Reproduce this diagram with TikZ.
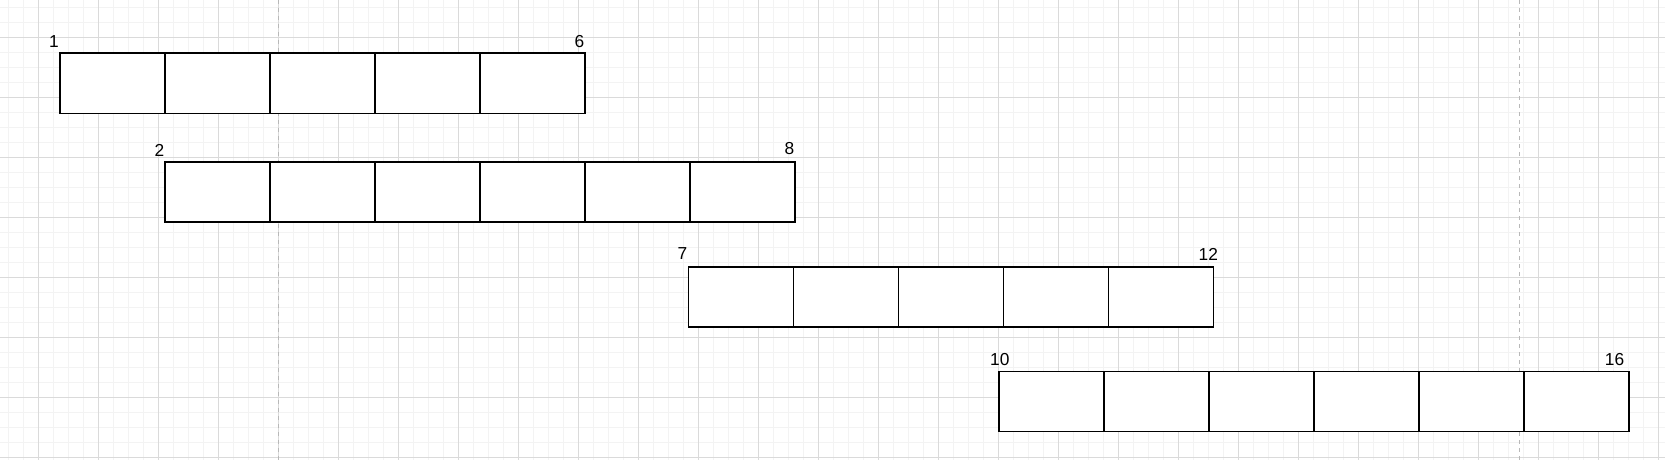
\documentclass[tikz,border=0pt]{standalone}
\usepackage{fontspec}
\setmainfont{Liberation Sans}
\definecolor{majorgrid}{HTML}{DADADA}
\definecolor{minorgrid}{HTML}{F3F3F3}
\definecolor{pagebreak}{HTML}{B8B8B8}
\tikzset{
  minorline/.style={draw=minorgrid, line width=0.75pt},
  majorline/.style={draw=majorgrid, line width=0.75pt},
  breakline/.style={draw=pagebreak, line width=1.1pt, dash pattern=on 3pt off 3pt},
  cell/.style={draw=black, line width=1.2pt, fill=white, anchor=north west,
    minimum width=78.75pt, minimum height=45pt, inner sep=0pt, outer sep=0pt},
  lbl/.style={inner sep=0pt, font=\fontsize{13pt}{15pt}\selectfont}
}
\begin{document}
\begin{tikzpicture}[x=0.75pt,y=-0.75pt]
\useasboundingbox (0,0) rectangle (1665,460);
\fill[white] (0,0) rectangle (1665,460);
% minor grid
\foreach \x in {8.3,23.3,...,1665} \draw[minorline] (\x,0) -- (\x,460);
\foreach \y in {7.3,22.3,...,460} \draw[minorline] (0,\y) -- (1665,\y);
% major grid
\foreach \x in {38.3,98.3,...,1665} \draw[majorline] (\x,0) -- (\x,460);
\foreach \y in {37.3,97.3,...,460} \draw[majorline] (0,\y) -- (1665,\y);
% page breaks
\draw[breakline] (278.3,0) -- (278.3,460);
\draw[breakline] (1519.7,0) -- (1519.7,460);
% row 1
\foreach \i in {1,...,5} \node[cell] (ra\i) at ({60+105*(\i-1)},53.3) {};
% row 2
\foreach \i in {1,...,6} \node[cell] (rb\i) at ({165+105*(\i-1)},161.7) {};
% row 3
\foreach \i in {1,...,5} \node[cell] (rc\i) at ({688.3+105*(\i-1)},266.7) {};
% row 4
\foreach \i in {1,...,6} \node[cell] (rd\i) at ({999+105*(\i-1)},371.6) {};
% labels
\node[lbl] (la) at (54,42) {1};
\node[lbl] (lb) at (579.5,42) {6};
\node[lbl] (lc) at (159.5,150) {2};
\node[lbl] (ld) at (789.5,149) {8};
\node[lbl] (le) at (682.5,254) {7};
\node[lbl] (lf) at (1208.3,254.3) {12};
\node[lbl] (lg) at (999.8,359.5) {10};
\node[lbl] (lh) at (1614.5,360) {16};
\end{tikzpicture}
\end{document}
